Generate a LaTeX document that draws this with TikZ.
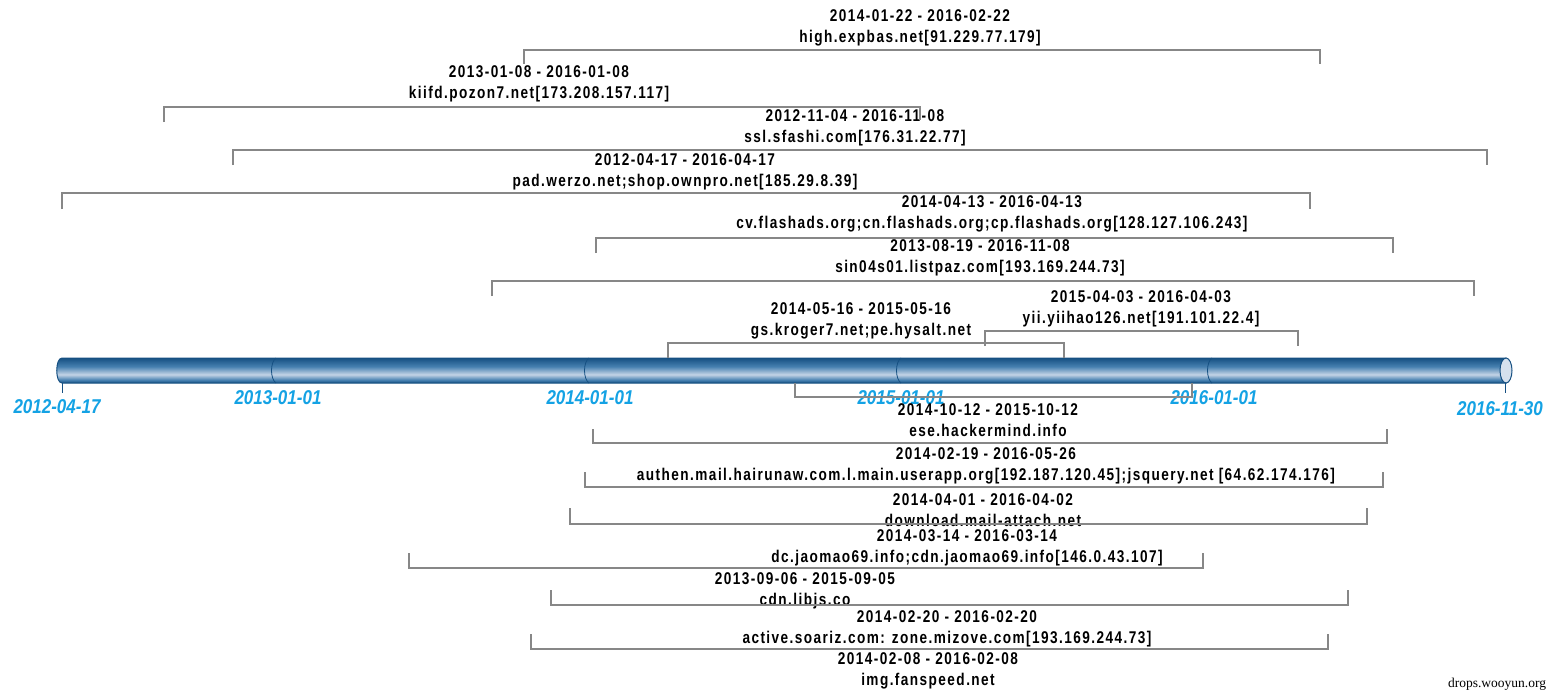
\documentclass[tikz,border=0pt]{standalone}
\usepackage{fontspec}
\usepackage{xcolor}
\usepackage{tikz}
\setmainfont{Liberation Sans}
\newfontfamily\labelfont[FakeStretch=0.8,LetterSpace=8.5]{Liberation Sans}
\newfontfamily\datefont[FakeStretch=0.85]{Liberation Sans}
\newfontfamily\markfont{Liberation Serif}
\definecolor{bardark}{RGB}{22,80,130}
\definecolor{barmid}{RGB}{70,128,176}
\definecolor{barlight}{RGB}{196,212,230}
\definecolor{datecyan}{RGB}{20,162,228}
\definecolor{spangray}{RGB}{135,135,135}
\pgfdeclareverticalshading{barshade}{100bp}{color(0bp)=(bardark); color(25bp)=(bardark); color(31bp)=(barmid); color(42bp)=(barlight); color(58bp)=(barmid); color(75bp)=(bardark); color(100bp)=(bardark)}

\begin{document}
\begin{tikzpicture}[x=1pt, y=-1pt,
    lbl/.style={align=center, inner sep=0pt, font=\labelfont\bfseries\fontsize{17}{20.5}\selectfont},
    datelbl/.style={inner sep=0pt, text=datecyan, font=\datefont\bfseries\itshape\fontsize{20}{22}\selectfont},
    spanline/.style={draw=spangray, line width=1.3pt}]
        \useasboundingbox (0,0) rectangle (1552,696);

        \shade[shading=barshade, draw=bardark, line width=1pt]
            (62,358) -- (1506,358) -- (1506,383) -- (62,383) .. controls (55,383) and (55,358) .. (62,358) -- cycle;
        \draw[bardark, line width=0.8pt] (276,358) .. controls (270,362) and (270,379) .. (276,383);
        \draw[bardark, line width=0.8pt] (589,358) .. controls (583,362) and (583,379) .. (589,383);
        \draw[bardark, line width=0.8pt] (901,358) .. controls (895,362) and (895,379) .. (901,383);
        \draw[bardark, line width=0.8pt] (1212,358) .. controls (1206,362) and (1206,379) .. (1212,383);
        \filldraw[fill=barlight!70!white, draw=bardark, line width=1pt] (1506,370.5) ellipse [x radius=6, y radius=12.5];
        \draw[bardark, line width=1pt] (62,383) -- (62,393);
        \draw[bardark, line width=1pt] (1505,383) -- (1505,393);

        \node (t2012) [datelbl] at (57,407) {2012-04-17};
        \node (t2013) [datelbl] at (278,398) {2013-01-01};
        \node (t2014) [datelbl] at (590,398) {2014-01-01};
        \node (t2015) [datelbl] at (901,398) {2015-01-01};
        \node (t2016) [datelbl] at (1214,398) {2016-01-01};
        \node (tend) [datelbl] at (1500,409) {2016-11-30};

        \node (expbas) [lbl] at (920,28) {2014-01-22 - 2016-02-22\\high.expbas.net[91.229.77.179]};
        \node (pozon) [lbl] at (539,84) {2013-01-08 - 2016-01-08\\kiifd.pozon7.net[173.208.157.117]};
        \node (sfashi) [lbl] at (855,128) {2012-11-04 - 2016-11-08\\ssl.sfashi.com[176.31.22.77]};
        \node (werzo) [lbl] at (685,172) {2012-04-17 - 2016-04-17\\pad.werzo.net;shop.ownpro.net[185.29.8.39]};
        \node (flashads) [lbl] at (992,214) {2014-04-13 - 2016-04-13\\cv.flashads.org;cn.flashads.org;cp.flashads.org[128.127.106.243]};
        \node (listpaz) [lbl] at (980,258) {2013-08-19 - 2016-11-08\\sin04s01.listpaz.com[193.169.244.73]};
        \node (kroger) [lbl] at (861,321) {2014-05-16 - 2015-05-16\\gs.kroger7.net;pe.hysalt.net};
        \node (yiihao) [lbl] at (1141,309) {2015-04-03 - 2016-04-03\\yii.yiihao126.net[191.101.22.4]};

        \node (hackermind) [lbl] at (988,420) {2014-10-12 - 2015-10-12\\ese.hackermind.info};
        \node (hairunaw) [lbl] at (986,466) {2014-02-19 - 2016-05-26\\authen.mail.hairunaw.com.l.main.userapp.org[192.187.120.45];jsquery.net [64.62.174.176]};
        \node (mailattach) [lbl] at (983,510) {2014-04-01 - 2016-04-02\\download.mail-attach.net};
        \node (jaomao) [lbl] at (967,548) {2014-03-14 - 2016-03-14\\dc.jaomao69.info;cdn.jaomao69.info[146.0.43.107]};
        \node (libjs) [lbl] at (805,591) {2013-09-06 - 2015-09-05\\cdn.libjs.co};
        \node (soariz) [lbl] at (947,629) {2014-02-20 - 2016-02-20\\active.soariz.com: zone.mizove.com[193.169.244.73]};
        \node (fanspeed) [lbl] at (928,671) {2014-02-08 - 2016-02-08\\img.fanspeed.net};

        \draw[spanline] (524,64) |- (1320,50) -- (1320,64);
        \draw[spanline] (164,122) |- (920,107) -- (920,120);
        \draw[spanline] (233,165) |- (1487,150) -- (1487,165);
        \draw[spanline] (62,209) |- (1310,193) -- (1310,209);
        \draw[spanline] (596,253) |- (1393,238) -- (1393,253);
        \draw[spanline] (492,296) |- (1474,281) -- (1474,296);
        \draw[spanline] (985,346) |- (1298,331) -- (1298,346);
        \draw[spanline] (668,358) |- (1064,343) -- (1064,358);

        \draw[spanline] (795,383) |- (1192,397) -- (1192,383);
        \draw[spanline] (593,429) |- (1387,443) -- (1387,429);
        \draw[spanline] (585,472) |- (1383,487) -- (1383,472);
        \draw[spanline] (570,508) |- (1367,524) -- (1367,508);
        \draw[spanline] (409,553) |- (1203,568) -- (1203,553);
        \draw[spanline] (551,590) |- (1348,605) -- (1348,590);
        \draw[spanline] (531,634) |- (1328,649) -- (1328,634);

        \node (mark) [inner sep=0pt, font=\markfont\fontsize{13.5}{16}\selectfont] at (1497,684) {drops.wooyun.org};
    \end{tikzpicture}
\end{document}
